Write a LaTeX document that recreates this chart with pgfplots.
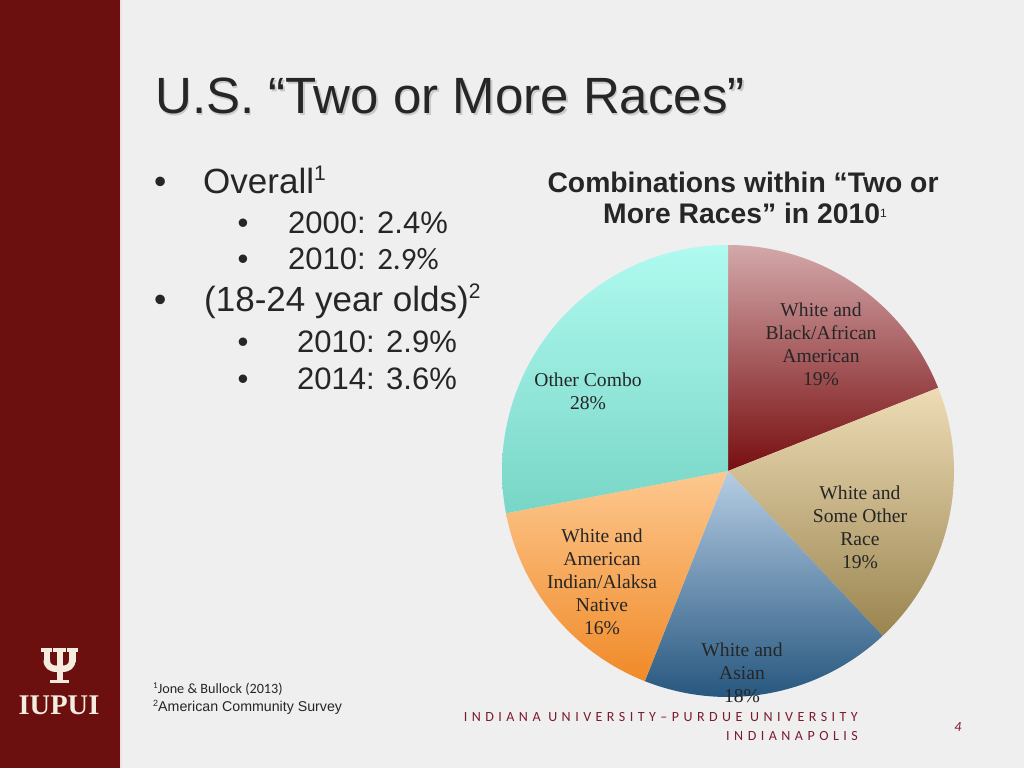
\documentclass[border=0pt]{standalone}
\usepackage{fontspec}
\usepackage{pgfplots}
\usepackage{pgfplotstable}
\pgfplotsset{compat=1.18}
\setmainfont{Liberation Sans}
\newfontfamily\seriff{Liberation Serif}
\newfontfamily\calib{Carlito}
\newfontfamily\calibsp[LetterSpace=32]{Carlito}
\definecolor{bg}{HTML}{EFEFEF}
\definecolor{crim}{HTML}{6B0F0F}
\definecolor{cream}{HTML}{F5ECE0}
\definecolor{txt}{HTML}{262626}
\definecolor{foot}{HTML}{7B1B2E}
\definecolor{wbT}{HTML}{D3A8AA}
\definecolor{wbB}{HTML}{780E10}
\definecolor{wsT}{HTML}{EEDCB6}
\definecolor{wsB}{HTML}{9A8550}
\definecolor{waT}{HTML}{B6CDE4}
\definecolor{waB}{HTML}{27577F}
\definecolor{wiT}{HTML}{FDC88F}
\definecolor{wiB}{HTML}{F08A28}
\definecolor{ocT}{HTML}{B0FAF0}
\definecolor{ocB}{HTML}{78D6C6}

\pgfplotstableread{
slice value
1 19
2 19
3 18
4 16
5 28
}\piedata

\tikzset{lbl/.style={align=center, inner sep=0pt, text=txt, font=\seriff\fontsize{19.6}{23}\selectfont}}

\begin{document}
\begin{tikzpicture}
\pgfplotstablegetelem{0}{value}\of\piedata \let\vA\pgfplotsretval
\pgfplotstablegetelem{1}{value}\of\piedata \let\vB\pgfplotsretval
\pgfplotstablegetelem{2}{value}\of\piedata \let\vC\pgfplotsretval
\pgfplotstablegetelem{3}{value}\of\piedata \let\vD\pgfplotsretval
\pgfplotstablegetelem{4}{value}\of\piedata \let\vE\pgfplotsretval
\pgfmathsetmacro\tA{90}
\pgfmathsetmacro\tB{\tA-3.6*\vA}
\pgfmathsetmacro\tC{\tB-3.6*\vB}
\pgfmathsetmacro\tD{\tC-3.6*\vC}
\pgfmathsetmacro\tE{\tD-3.6*\vD}
\pgfmathsetmacro\tF{\tE-3.6*\vE}

\begin{scope}[shift={(0pt,768pt)}, x=1pt, y=-1pt]
\useasboundingbox (0,0) rectangle (1024,768);
\fill[bg] (0,0) rectangle (1024,768);
\fill[crim] (0,0) rectangle (120,768);
\fill[crim!12] (120,0) rectangle (122,768);

% title
\node[anchor=base west, inner sep=0pt, text=black!30, opacity=0.6, font=\fontsize{51}{51}\selectfont] at (156.5,115.5) {U.S. “Two or More Races”};
\node[anchor=base west, inner sep=0pt, text=txt, font=\fontsize{51}{51}\selectfont] at (155,114) {U.S. “Two or More Races”};

% bullets
\begin{scope}[every node/.style={anchor=base west, inner sep=0pt, text=txt}]
\node[font=\fontsize{35}{35}\selectfont] at (154,194) {•};
\node[font=\fontsize{35}{35}\selectfont] at (203,194) {Overall\raisebox{13pt}{\fontsize{21}{21}\selectfont 1}};
\node[font=\fontsize{31}{31}\selectfont] at (237.5,234) {•};
\node[font=\fontsize{31}{31}\selectfont] at (288,234) {2000: 2.4\%};
\node[font=\fontsize{31}{31}\selectfont] at (237.5,270) {•};
\node[font=\fontsize{31}{31}\selectfont] at (288,270) {2010: {\calib 2.9\%}};
\node[font=\fontsize{35}{35}\selectfont] at (154,312) {•};
\node[font=\fontsize{35}{35}\selectfont] at (204,312) {(18-24 year olds)\raisebox{13pt}{\fontsize{21}{21}\selectfont 2}};
\node[font=\fontsize{31}{31}\selectfont] at (237.5,353) {•};
\node[font=\fontsize{31}{31}\selectfont] at (297,353) {2010: 2.9\%};
\node[font=\fontsize{31}{31}\selectfont] at (237.5,390) {•};
\node[font=\fontsize{31}{31}\selectfont] at (297,390) {2014: 3.6\%};
\end{scope}

% chart title
\node[anchor=base, inner sep=0pt, text=txt, font=\bfseries\fontsize{28.3}{28.3}\selectfont] at (743,193) {Combinations within “Two or};
\node[anchor=base, inner sep=0pt, text=txt, font=\bfseries\fontsize{28.3}{28.3}\selectfont] at (745,224) {More Races” in 2010\raisebox{6pt}{\mdseries\fontsize{12}{12}\selectfont 1}};

% footnotes
\node[anchor=base west, inner sep=0pt, text=txt, font=\calib\fontsize{14.2}{14.2}\selectfont] at (153,693) {\raisebox{5pt}{\fontsize{9}{9}\selectfont 1}Jone \& Bullock (2013)};
\node[anchor=base west, inner sep=0pt, text=txt, font=\fontsize{14.2}{14.2}\selectfont] at (153,711) {\raisebox{5pt}{\fontsize{9}{9}\selectfont 2}American Community Survey};

% footer
\node[anchor=base east, inner sep=0pt, text=foot, font=\calibsp\fontsize{14}{14}\selectfont] at (858,721) {INDIANA UNIVERSITY–PURDUE UNIVERSITY};
\node[anchor=base east, inner sep=0pt, text=foot, font=\calibsp\fontsize{14}{14}\selectfont] at (858,740) {INDIANAPOLIS};
\node[anchor=base, inner sep=0pt, text=foot, font=\calib\itshape\fontsize{14}{14}\selectfont] at (958,731) {4};

% logo
\fill[cream] (41,648) rectangle (52,651.5);
\fill[cream] (53,648) rectangle (66,651.5);
\fill[cream] (67,648) rectangle (78,651.5);
\fill[cream] (43.5,648) rectangle (50,662);
\fill[cream] (69,648) rectangle (75.5,662);
\fill[cream] (56.5,648) rectangle (62.5,683);
\fill[cream] (43.5,660) -- (50,660) .. controls (50,664.5) and (53,665.5) .. (56.5,665.5) -- (62.5,665.5) .. controls (66,665.5) and (69,664.5) .. (69,660) -- (75.5,660) .. controls (75.5,668) and (70,672) .. (62.5,672) -- (56.5,672) .. controls (49,672) and (43.5,668) .. (43.5,660) -- cycle;
\fill[cream] (50,679.5) rectangle (69,683);
\node[anchor=base, inner sep=0pt, text=cream, font=\seriff\bfseries\fontsize{28.5}{28.5}\selectfont] at (59,714) {IUPUI};
\end{scope}

\begin{axis}[at={(728pt,297pt)}, anchor=center, width=452pt, height=452pt,
  scale only axis, xmin=-1, xmax=1, ymin=-1, ymax=1, hide axis, clip=false]
\addplot[draw=none, top color=wbT, bottom color=wbB, domain=\tB:\tA, samples=80] ({cos(x)},{sin(x)}) -- (axis cs:0,0) -- cycle;
\addplot[draw=none, top color=wsT, bottom color=wsB, domain=\tC:\tB, samples=80] ({cos(x)},{sin(x)}) -- (axis cs:0,0) -- cycle;
\addplot[draw=none, top color=waT, bottom color=waB, domain=\tD:\tC, samples=80] ({cos(x)},{sin(x)}) -- (axis cs:0,0) -- cycle;
\addplot[draw=none, top color=wiT, bottom color=wiB, domain=\tE:\tD, samples=80] ({cos(x)},{sin(x)}) -- (axis cs:0,0) -- cycle;
\addplot[draw=none, top color=ocT, bottom color=ocB, domain=\tF:\tE, samples=100] ({cos(x)},{sin(x)}) -- (axis cs:0,0) -- cycle;
\node[lbl] at (axis cs:0.4115,0.5597) {White and\\Black/African\\American\\\vA\%};
\node[lbl] at (axis cs:0.584,-0.25) {White and\\Some Other\\Race\\\vB\%};
\node[lbl] at (axis cs:0.062,-0.894) {White and\\Asian\\\vC\%};
\node[lbl] at (axis cs:-0.5575,-0.491) {White and\\American\\Indian/Alaksa\\Native\\\vD\%};
\node[lbl] at (axis cs:-0.6195,0.354) {Other Combo\\\vE\%};
\end{axis}
\end{tikzpicture}
\end{document}
